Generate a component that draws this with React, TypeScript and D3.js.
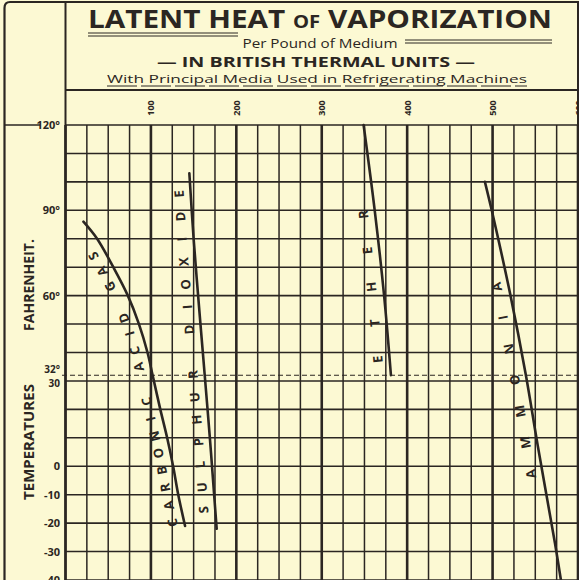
import React from 'react';
import * as d3 from 'd3';

// latent heat (BTU per lb), by temperature (deg F)
const co2Temp = [86, 80, 70, 60, 50, 40, 32, 20, 10, 0, -10, -21];
const co2Btu = [21, 37, 56, 73, 86, 96, 102, 111, 119, 126, 132, 140];
const so2Temp = [103, 80, 50, 32, 10, -10, -22];
const so2Btu = [145, 150, 158, 163, 169, 174, 177];
const etherTemp = [120, 90, 60, 32];
const etherBtu = [349, 362, 373, 381];
const nh3Temp = [100, 90, 60, 32, 7, -27, -40];
const nh3Btu = [491, 499, 521, 539, 553, 573, 580];

const mediaNames = ['CARBONIC ACID GAS', 'SULPHUR DIOXIDE', 'ETHER', 'AMMONIA'];
// temperature span the lettering runs along
const labelSpans = [[-19, 76], [-15, 96], [38, 89], [-2, 64]];

const btuTicks = [100, 200, 300, 400, 500, 600];
const tempTicks = [120, 90, 60, 30, 0, -10, -20, -30, -40];
const tempTickText = ['120°', '90°', '60°', '30', '0', '-10', '-20', '-30', '-40'];
const freezing = 32;

const W = 579;
const H = 580;
const INK = '#2b2622';
const PAPER = '#fcf9d3';
const FONT = '"Open Sans", "DejaVu Sans", sans-serif';

const x = d3.scaleLinear().domain([0, 600]).range([65.5, 578]);
const y = d3.scaleLinear().domain([120, -40]).range([125, 580]);

const media = [
  { t: co2Temp, v: co2Btu },
  { t: so2Temp, v: so2Btu },
  { t: etherTemp, v: etherBtu },
  { t: nh3Temp, v: nh3Btu },
].map((m, i) => ({ ...m, name: mediaNames[i], span: labelSpans[i] }));

const line = d3
  .line<[number, number]>()
  .x((d) => x(d[1]))
  .y((d) => y(d[0]))
  .curve(d3.curveCatmullRom);

// spread the letters evenly along the curve's length, a little to its left
function letters(m: any) {
  const f = d3.scaleLinear().domain(m.t).range(m.v);
  const [t0, t1] = m.span;
  const ts = d3.range(t0, t1 + 0.001, 0.25);
  const pts = ts.map((t) => [x(f(t)), y(t)]);
  const cum = [0];
  for (let i = 1; i < pts.length; i++) {
    cum.push(cum[i - 1] + Math.hypot(pts[i][0] - pts[i - 1][0], pts[i][1] - pts[i - 1][1]));
  }
  const total = cum[cum.length - 1];
  const chars = m.name.split('');
  const off = 12;
  return chars.map((c: string, i: number) => {
    const L = (total * i) / (chars.length - 1);
    let k = d3.bisectLeft(cum, L);
    k = Math.max(1, Math.min(pts.length - 1, k));
    const a = pts[k - 1], b = pts[k];
    const r = (L - cum[k - 1]) / (cum[k] - cum[k - 1] || 1);
    const px0 = a[0] + (b[0] - a[0]) * r;
    const py0 = a[1] + (b[1] - a[1]) * r;
    const dx = b[0] - a[0], dy = b[1] - a[1];
    const len = Math.hypot(dx, dy) || 1;
    const px = px0 + (dy / len) * off;
    const py = py0 + (-dx / len) * off;
    const ang = (Math.atan2(dy, dx) * 180) / Math.PI;
    return { c, px, py, ang };
  });
}

export default function App() {
  const cols = d3.range(0, 601, 25);
  const rows = d3.range(120, -41, -10);
  return (
    <div style={{ position: 'absolute', left: 0, top: 0 }}>
      <svg width={W} height={H} style={{ display: 'block', background: PAPER }}>
        <rect x={0} y={0} width={W} height={H} fill={PAPER} />

        {/* frame */}
        <path d={`M4.5,${H} V8 Q4.5,2 10,2 H${W}`} fill="none" stroke={INK} strokeWidth={2.2} />
        <line x1={x(0)} x2={x(0)} y1={2} y2={H} stroke={INK} strokeWidth={2} />
        <line x1={x(0)} x2={W} y1={90} y2={90} stroke={INK} strokeWidth={1.8} />
        <line x1={W - 1} x2={W - 1} y1={2} y2={H} stroke={INK} strokeWidth={2} />

        {/* title */}
        <g fill={INK} fontFamily={FONT} textAnchor="middle">
          <text x={320} y={28} fontSize={25} fontWeight={700} textLength={464} lengthAdjust="spacingAndGlyphs">
            LATENT  HEAT <tspan fontSize={17}>OF</tspan> VAPORIZATION
          </text>
          <text x={320} y={48} fontSize={13} textLength={155} lengthAdjust="spacingAndGlyphs">
            Per Pound of Medium
          </text>
          <text x={316} y={67} fontSize={15} fontWeight={700} textLength={318} lengthAdjust="spacingAndGlyphs">
            — IN BRITISH  THERMAL  UNITS —
          </text>
          <text x={317} y={83} fontSize={11.5} textLength={420} lengthAdjust="spacingAndGlyphs">
            With  Principal  Media  Used  in  Refrigerating  Machines
          </text>
        </g>
        <g stroke={INK} strokeWidth={1}>
          <line x1={88} x2={238} y1={33} y2={33} />
          <line x1={88} x2={238} y1={36} y2={36} />
          <line x1={405} x2={552} y1={40} y2={40} />
          <line x1={405} x2={552} y1={43} y2={43} />
          <line x1={107} x2={527} y1={86} y2={86} strokeDasharray="30 4" />
        </g>

        {/* grid */}
        <g stroke={INK}>
          {cols.map((c) => (
            <line key={'c' + c} x1={x(c)} x2={x(c)} y1={y(120)} y2={H} strokeWidth={c % 100 === 0 ? 2.6 : 1.5} />
          ))}
          {rows.map((r) => (
            <line key={'r' + r} x1={x(0)} x2={W} y1={y(r)} y2={y(r)} strokeWidth={1.6} />
          ))}
          <line x1={4.5} x2={40} y1={y(120)} y2={y(120)} strokeWidth={1.6} />
          <line x1={62} x2={W} y1={y(freezing)} y2={y(freezing)} strokeWidth={1.1} strokeDasharray="5 3" />
        </g>

        {/* top scale */}
        <g fill={INK} fontFamily={FONT} fontSize={9} fontWeight={700}>
          {btuTicks.map((b) => (
            <text key={b} transform={`translate(${x(b)},108) rotate(-90)`} textAnchor="middle" dominantBaseline="central">
              {b}
            </text>
          ))}
        </g>

        {/* left scale */}
        <g fill={INK} fontFamily={FONT} fontSize={11} fontWeight={700} textAnchor="end">
          {tempTicks.map((t, i) => (
            <text key={t} x={60} y={y(t) + (t === 30 ? 6 : 4)} fontSize={t === 30 ? 10 : 11}>
              {tempTickText[i]}
            </text>
          ))}
          <text x={60} y={y(freezing) - 2} fontSize={10}>32°</text>
          <text transform="translate(34,442) rotate(-90)" textAnchor="middle" fontSize={15}>
            TEMPERATURES
          </text>
          <text transform="translate(34,285) rotate(-90)" textAnchor="middle" fontSize={14}>
            FAHRENHEIT.
          </text>
        </g>

        {/* curves */}
        {media.map((m) => (
          <path
            key={m.name}
            d={line(m.t.map((t, i) => [t, m.v[i]] as [number, number])) || ''}
            fill="none"
            stroke={INK}
            strokeWidth={2.6}
            strokeLinecap="round"
          />
        ))}
        <g fill={INK} fontFamily={FONT} fontSize={13} fontWeight={700}>
          {media.map((m) =>
            letters(m).map((l: any, i: number) => (
              <text
                key={m.name + i}
                transform={`translate(${l.px},${l.py}) rotate(${l.ang})`}
                textAnchor="middle"
                dominantBaseline="central"
              >
                {l.c}
              </text>
            ))
          )}
        </g>
      </svg>
    </div>
  );
}
